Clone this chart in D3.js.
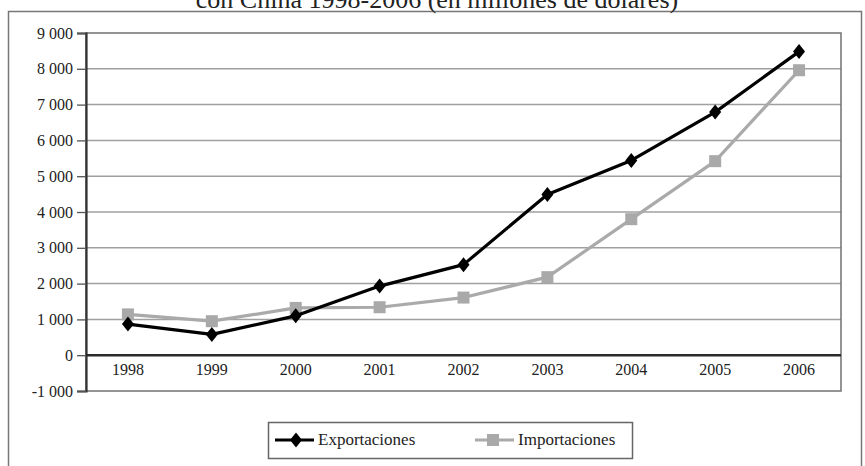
<!DOCTYPE html>
<html>
<head>
<meta charset="utf-8">
<script src="https://cdn.jsdelivr.net/npm/d3@7/dist/d3.min.js"></script>
<style>
  html, body { margin: 0; padding: 0; background: #fff; }
  svg { display: block; }
  text { font-family: "Liberation Serif", "Times New Roman", serif; fill: #222; }
</style>
</head>
<body>
<svg id="chart" width="865" height="466"></svg>
<script>
// Comercio con China 1998-2006, millones de dólares
const years = ["1998", "1999", "2000", "2001", "2002", "2003", "2004", "2005", "2006"];
const exportaciones = [870, 580, 1100, 1930, 2530, 4490, 5440, 6790, 8480];
const importaciones = [1140, 950, 1320, 1340, 1610, 2180, 3800, 5420, 7960];
const yTicks = [-1000, 0, 1000, 2000, 3000, 4000, 5000, 6000, 7000, 8000, 9000];
const titleText = "con China 1998-2006 (en millones de dólares)";

const svg = d3.select("#chart");
const W = 865, H = 466;
const plot = { left: 86, right: 841, top: 33, bottom: 391 };

const x = d3.scaleBand().domain(years).range([plot.left, plot.right]).paddingInner(0).paddingOuter(0);
const y = d3.scaleLinear().domain([-1000, 9000]).range([plot.bottom, plot.top]);
const cx = d => x(d) + x.bandwidth() / 2;

// outer frame
svg.append("rect")
  .attr("x", 8.5).attr("y", 11.5)
  .attr("width", 853).attr("height", 470)
  .attr("fill", "none").attr("stroke", "#777").attr("stroke-width", 1.5);

// title (partly above the frame)
svg.append("text")
  .attr("x", 437).attr("y", 7.5)
  .attr("text-anchor", "middle")
  .attr("font-size", 26)
  .text(titleText);

// horizontal gridlines
svg.append("g")
  .selectAll("line")
  .data(yTicks.filter(v => v !== 0 && v !== -1000 && v !== 9000))
  .join("line")
  .attr("x1", plot.left).attr("x2", plot.right)
  .attr("y1", d => y(d)).attr("y2", d => y(d))
  .attr("stroke", "#a0a0a0").attr("stroke-width", 1.5);

// plot border
svg.append("rect")
  .attr("x", plot.left).attr("y", plot.top)
  .attr("width", plot.right - plot.left).attr("height", plot.bottom - plot.top)
  .attr("fill", "none").attr("stroke", "#707070").attr("stroke-width", 1.5);

// y axis
const yAxis = d3.axisLeft(y)
  .tickValues(yTicks)
  .tickSize(9)
  .tickPadding(4)
  .tickFormat(d => d3.format(",")(d).replace(/,/g, "\u2009").replace(/\u2009/g, " ").replace("−", "-"));
const gy = svg.append("g")
  .attr("transform", `translate(${plot.left},0)`)
  .call(yAxis);
gy.select(".domain").attr("stroke", "#333").attr("stroke-width", 2.2);
gy.selectAll(".tick line").attr("stroke", "#555").attr("stroke-width", 1.3);
gy.selectAll(".tick text")
  .attr("font-family", "Liberation Serif, serif")
  .attr("font-size", 16)
  .attr("fill", "#333");

// zero line (category axis)
svg.append("line")
  .attr("x1", plot.left).attr("x2", plot.right)
  .attr("y1", y(0)).attr("y2", y(0))
  .attr("stroke", "#2a2a2a").attr("stroke-width", 2.5);

// category labels
const xAxis = d3.axisBottom(x).tickSize(0).tickPadding(8);
const gx = svg.append("g")
  .attr("transform", `translate(0,${y(0)})`)
  .call(xAxis);
gx.select(".domain").remove();
gx.selectAll(".tick text")
  .attr("font-family", "Liberation Serif, serif")
  .attr("font-size", 16)
  .attr("fill", "#333");

// series
const line = d3.line().x((d, i) => cx(years[i])).y(d => y(d));
const diamond = (s) => `M0,${-s}L${s * 0.8},0L0,${s}L${-s * 0.8},0Z`;

svg.append("path")
  .datum(importaciones)
  .attr("d", line)
  .attr("fill", "none").attr("stroke", "#aaaaaa").attr("stroke-width", 3.2)
  .attr("stroke-linejoin", "round");
svg.append("g").selectAll("rect")
  .data(importaciones)
  .join("rect")
  .attr("x", (d, i) => cx(years[i]) - 6)
  .attr("y", d => y(d) - 6)
  .attr("width", 12).attr("height", 12)
  .attr("fill", "#a9a9a9");

svg.append("path")
  .datum(exportaciones)
  .attr("d", line)
  .attr("fill", "none").attr("stroke", "#000").attr("stroke-width", 3.2)
  .attr("stroke-linejoin", "round");
svg.append("g").selectAll("path")
  .data(exportaciones)
  .join("path")
  .attr("transform", (d, i) => `translate(${cx(years[i])},${y(d)})`)
  .attr("d", diamond(7.5))
  .attr("fill", "#000");

// legend
const lg = svg.append("g");
lg.append("rect")
  .attr("x", 268.5).attr("y", 422.5)
  .attr("width", 364).attr("height", 36)
  .attr("fill", "#fff").attr("stroke", "#666").attr("stroke-width", 1.5);

const legendItems = [
  { name: "Exportaciones", color: "#000", x0: 275, marker: "diamond" },
  { name: "Importaciones", color: "#aaaaaa", x0: 475, marker: "square" }
];
const ly = 440;
legendItems.forEach(it => {
  lg.append("line")
    .attr("x1", it.x0).attr("x2", it.x0 + 39)
    .attr("y1", ly).attr("y2", ly)
    .attr("stroke", it.color).attr("stroke-width", 3.2);
  if (it.marker === "diamond") {
    lg.append("path")
      .attr("transform", `translate(${it.x0 + 21},${ly})`)
      .attr("d", diamond(7.5)).attr("fill", it.color);
  } else {
    lg.append("rect")
      .attr("x", it.x0 + 18 - 6).attr("y", ly - 6)
      .attr("width", 12).attr("height", 12)
      .attr("fill", "#a9a9a9");
  }
  lg.append("text")
    .attr("x", it.x0 + 43).attr("y", ly + 5)
    .attr("font-size", 17)
    .attr("fill", "#333")
    .text(it.name);
});
</script>
</body>
</html>
